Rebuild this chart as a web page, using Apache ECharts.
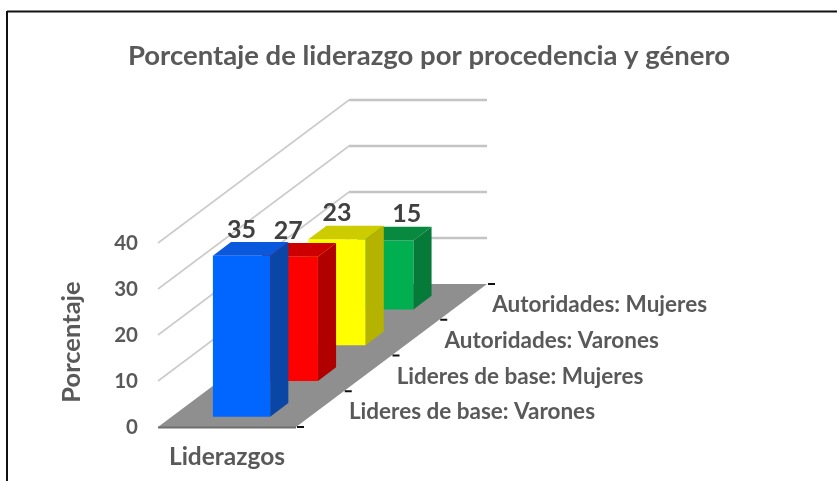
<!DOCTYPE html>
<html>
<head>
<meta charset="utf-8">
<style>html,body{margin:0;padding:0;background:#fff}#c{width:837px;height:481px}</style>
<script src="https://cdn.jsdelivr.net/npm/echarts@6/dist/echarts.min.js"></script>
</head>
<body>
<div id="c"></div>
<script>
const titleText = 'Porcentaje de liderazgo por procedencia y género';
const xCategories = ['Liderazgos'];
const depthCategories = ['Lideres de base: Varones', 'Lideres de base: Mujeres', 'Autoridades: Varones', 'Autoridades: Mujeres'];
const values = [35, 27, 23, 15];
const yTicks = [0, 10, 20, 30, 40];
const frontColors = ['#0066ff', '#ff0000', '#ffff00', '#00b050'];
const sideColors = ['#0a46a6', '#b00000', '#b3b300', '#067a38'];
const topColors = ['#0a58dc', '#cc0000', '#cccc00', '#078a40'];
const labelShift = [0, -1, 0, 22];

const DX = 191, DY = -143, BACK_EXT = 138;
const BAR_W = 0.415, BAR_D = 0.38, GAP_D = 0.29, BAR_X = 0.7;
const TEXT = '#595959', FONT = 'Lato';

function toPt(base, f) { return [base[0] + DX * f, base[1] + DY * f]; }

function renderScene(params, api) {
  const w = api.size([1, 0])[0];
  const c0 = api.coord([0, 0]);
  const fl = [c0[0] - w / 2, c0[1]];
  const fr = [c0[0] + w / 2, c0[1]];
  const kids = [];
  yTicks.forEach(function (t) {
    if (t === 0) return;
    const p = api.coord([0, t]);
    const a = [p[0] - w / 2, p[1]];
    const b = toPt(a, 1);
    kids.push({ type: 'line', shape: { x1: a[0], y1: a[1], x2: b[0], y2: b[1] },
      style: { stroke: '#cccccc', lineWidth: 1.6 } });
    kids.push({ type: 'line', shape: { x1: b[0], y1: b[1], x2: b[0] + BACK_EXT, y2: b[1] },
      style: { stroke: '#c4c4c4', lineWidth: 2.4 } });
  });
  kids.push({ type: 'polygon', shape: { points: [fl, fr, toPt(fr, 1), toPt(fl, 1)] }, style: { fill: '#8f8f8f' } });
  kids.push({ type: 'line', shape: { x1: fl[0], y1: fl[1] + 0.5, x2: fr[0], y2: fr[1] + 0.5 }, style: { stroke: '#6e6e6e', lineWidth: 2 } });
  for (let i = 0; i <= depthCategories.length; i++) {
    const p = toPt(fr, i / depthCategories.length);
    kids.push({ type: 'line', shape: { x1: p[0] + 1, y1: p[1], x2: p[0] + 8, y2: p[1] }, style: { stroke: '#111', lineWidth: 2 } });
  }
  depthCategories.forEach(function (name, i) {
    const p = toPt(fr, (i + 0.5) / depthCategories.length);
    kids.push({ type: 'text', style: { text: name, x: p[0] + 29, y: p[1] + 3, align: 'left', verticalAlign: 'middle',
      font: 'bold 22.5px ' + FONT, fill: TEXT } });
  });
  return { type: 'group', children: kids };
}

function renderBar(params, api) {
  const i = api.value(0), v = api.value(1);
  const w = api.size([1, 0])[0];
  const n = depthCategories.length;
  const c0 = api.coord([0, 0]), cv = api.coord([0, v]);
  const bw = w * BAR_W, cx = c0[0] + BAR_X;
  const f0 = (i + GAP_D) / n, f1 = f0 + BAR_D / n;
  const a0 = toPt([cx - bw / 2, c0[1]], f0), b0 = toPt([cx + bw / 2, c0[1]], f0);
  const a1 = toPt([cx - bw / 2, cv[1]], f0), b1 = toPt([cx + bw / 2, cv[1]], f0);
  const c1 = toPt([cx - bw / 2, cv[1]], f1), d1 = toPt([cx + bw / 2, cv[1]], f1);
  const d0 = toPt([cx + bw / 2, c0[1]], f1);
  return { type: 'group', children: [
    { type: 'polygon', shape: { points: [a0, b0, b1, a1] }, style: { fill: frontColors[i] } },
    { type: 'polygon', shape: { points: [b0, d0, d1, b1] }, style: { fill: sideColors[i] } },
    { type: 'polygon', shape: { points: [a1, b1, d1, c1] }, style: { fill: topColors[i] } },
    { type: 'text', style: { text: String(v), x: (a1[0] + b1[0]) / 2 + labelShift[i], y: d1[1] - 12.5,
      align: 'center', verticalAlign: 'middle', font: 'bold 25px ' + FONT, fill: '#404040' } }
  ] };
}

const barData = values.map(function (v, i) { return [i, v]; }).reverse();

const chart = echarts.init(document.getElementById('c'), null, { renderer: 'canvas' });
chart.setOption({
  animation: false,
  backgroundColor: '#fff',
  title: { text: titleText, left: 424, top: 37, textAlign: 'center',
    textStyle: { fontFamily: FONT, fontWeight: 'bold', fontSize: 27.5, color: TEXT } },
  grid: { left: 158, top: 243, width: 138, height: 184, containLabel: false },
  xAxis: { type: 'category', data: xCategories, axisLine: { show: false }, axisTick: { show: false },
    axisLabel: { margin: 18, fontFamily: FONT, fontWeight: 'bold', fontSize: 24.5, color: TEXT } },
  yAxis: { type: 'value', min: 0, max: 40, interval: 10, splitLine: { show: false },
    axisLine: { show: false }, axisTick: { show: false },
    axisLabel: { margin: 20, fontFamily: FONT, fontWeight: 'bold', fontSize: 20.5, color: TEXT, padding: [3, 0, 0, 0] },
    name: 'Porcentaje', nameLocation: 'middle', nameGap: 73, nameRotate: 90,
    nameTextStyle: { fontFamily: FONT, fontWeight: 'bold', fontSize: 25.5, color: TEXT, padding: [0, 14, 0, 0] } },
  series: [
    { type: 'custom', coordinateSystem: 'cartesian2d', clip: false, z: 2, silent: true,
      data: [[0, 0]], renderItem: renderScene },
    { type: 'custom', coordinateSystem: 'cartesian2d', clip: false, z: 3, silent: true,
      encode: { x: -1, y: 1 }, data: barData, renderItem: renderBar }
  ],
  graphic: [
    { type: 'line', silent: true, shape: { x1: 7, y1: 11.5, x2: 837, y2: 11.5 }, style: { stroke: '#111', lineWidth: 2 } },
    { type: 'line', silent: true, shape: { x1: 7, y1: 11, x2: 7, y2: 481 }, style: { stroke: '#111', lineWidth: 2 } }
  ]
});
</script>
</body>
</html>
